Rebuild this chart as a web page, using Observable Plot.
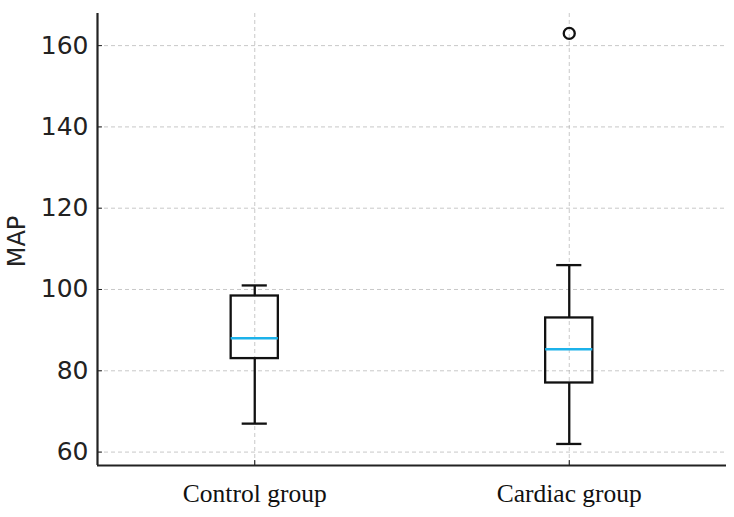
<!DOCTYPE html>
<html>
<head>
<meta charset="utf-8">
<script src="https://cdn.jsdelivr.net/npm/d3@7"></script>
<script src="https://cdn.jsdelivr.net/npm/@observablehq/plot@0.6"></script>
<style>
  html, body { margin: 0; padding: 0; background: #fff; }
  #chart svg { display: block; }
</style>
</head>
<body>
<div id="chart"></div>
<script>
// Box-plot summary of mean arterial pressure (MAP) per group
const groups      = ["Control group", "Cardiac group"];
const positions   = [1, 2];
const whiskerLow  = [67, 62];
const q1          = [83, 77];
const median      = [88, 85.3];
const q3          = [98.4, 93];
const whiskerHigh = [101, 106];
const outlierGroup = [2];
const outlierValue = [163];
const yTicks = [60, 80, 100, 120, 140, 160];

const boxWidth = 0.15;
const capWidth = 0.08;
const lineW = 2.3;

const boxes = groups.map((g, i) => ({
  group: g, pos: positions[i],
  lo: whiskerLow[i], q1: q1[i], med: median[i], q3: q3[i], hi: whiskerHigh[i]
}));
const outliers = outlierGroup.map((p, i) => ({pos: p, value: outlierValue[i]}));

const gridStyle = {stroke: "#b0b0b0", strokeOpacity: 0.7, strokeDasharray: "4,3", strokeWidth: 1};

const chart = Plot.plot({
  width: 734,
  height: 517,
  marginLeft: 97,
  marginRight: 8,
  marginTop: 13,
  marginBottom: 52,
  style: {fontFamily: "DejaVu Sans, sans-serif", background: "#fff", overflow: "visible"},
  x: {domain: [0.5, 2.5]},
  y: {domain: [56.7, 167.9]},
  marks: [
    Plot.gridY(yTicks, gridStyle),
    Plot.gridX(positions, gridStyle),
    // whiskers
    Plot.ruleX(boxes, {x: "pos", y1: "lo", y2: "q1", stroke: "#111", strokeWidth: lineW}),
    Plot.ruleX(boxes, {x: "pos", y1: "q3", y2: "hi", stroke: "#111", strokeWidth: lineW}),
    // caps
    Plot.ruleY(boxes, {y: "lo", x1: d => d.pos - capWidth / 2, x2: d => d.pos + capWidth / 2, stroke: "#111", strokeWidth: lineW}),
    Plot.ruleY(boxes, {y: "hi", x1: d => d.pos - capWidth / 2, x2: d => d.pos + capWidth / 2, stroke: "#111", strokeWidth: lineW}),
    // boxes
    Plot.rect(boxes, {x1: d => d.pos - boxWidth / 2, x2: d => d.pos + boxWidth / 2, y1: "q1", y2: "q3",
      fill: "none", stroke: "#111", strokeWidth: lineW, insetLeft: 0, insetRight: 0}),
    // medians
    Plot.ruleY(boxes, {y: "med", x1: d => d.pos - boxWidth / 2, x2: d => d.pos + boxWidth / 2, stroke: "#1cb2ea", strokeWidth: 2.5}),
    // outliers
    Plot.dot(outliers, {x: "pos", y: "value", r: 5.5, stroke: "#111", strokeWidth: lineW, fill: "none"}),
    // axes with inward ticks
    Plot.axisY(yTicks, {tickSize: -5, tickPadding: 14, fontSize: 25, label: null, stroke: "#222", color: "#222"}),
    Plot.axisX(positions, {tickSize: -5, tickPadding: 23, tickFormat: (d, i) => groups[i], fontSize: 25.5,
      label: null, fontFamily: "Liberation Serif, Times New Roman, serif", color: "#111"}),
    Plot.text(["MAP"], {frameAnchor: "left", textAnchor: "middle", dx: -80, dy: 2, rotate: -90, fontSize: 24, fill: "#222"}),
    Plot.ruleX([0.5], {stroke: "#222", strokeWidth: 2.2}),
    Plot.ruleY([56.7], {stroke: "#222", strokeWidth: 2.2})
  ]
});
document.getElementById("chart").appendChild(chart);
</script>
</body>
</html>
